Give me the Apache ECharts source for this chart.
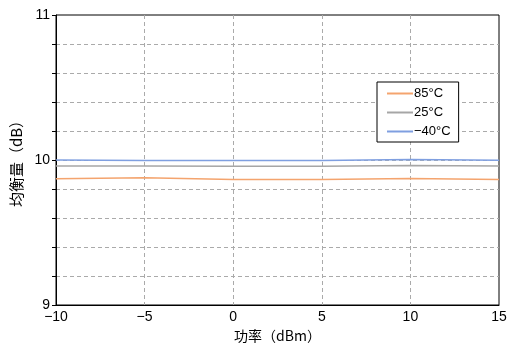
<!DOCTYPE html>
<html>
<head>
<meta charset="utf-8">
<script src="https://cdn.jsdelivr.net/npm/echarts@6/dist/echarts.min.js"></script>
<style>
  html, body { margin: 0; padding: 0; background: #fff; }
  #chart { width: 508px; height: 347px; }
</style>
</head>
<body>
<div id="chart"></div>
<script>
// Input power (dBm)
const power = [-10, -5, 0, 5, 10, 15];
// Equalization (dB) per temperature
const eq85 = [9.870, 9.878, 9.865, 9.866, 9.872, 9.865];
const eq25 = [9.958, 9.958, 9.957, 9.957, 9.962, 9.958];
const eqM40 = [10.000, 9.997, 9.996, 9.996, 10.003, 9.998];
const seriesNames = ['85°C', '25°C', '\u221240°C'];
const seriesColors = ['#f4a46e', '#a6a6a6', '#7f9fe0'];
const yLabels = [9, 10, 11];

const fontCN = '"Noto Sans CJK SC", "DejaVu Sans", sans-serif';
const fontNum = 'Arial, "Liberation Sans", sans-serif';
const minus = v => String(v).replace('-', '\u2212');

const chart = echarts.init(document.getElementById('chart'), null, { renderer: 'canvas' });
const data = [eq85, eq25, eqM40];
const dashed = { color: '#aaa', type: [4, 3], width: 1 };

chart.setOption({
  animation: false,
  backgroundColor: '#fff',
  grid: {
    left: 56, right: 9, top: 15, bottom: 42,
    outerBoundsMode: 'none', containLabel: false,
    show: true, borderColor: '#000', borderWidth: 1
  },
  legend: {
    left: 377, top: 82,
    orient: 'vertical',
    backgroundColor: '#fff',
    borderColor: '#000', borderWidth: 1, borderRadius: 0,
    padding: [5, 8, 4, 10],
    itemGap: 6,
    itemWidth: 26, itemHeight: 2,
    icon: 'rect',
    textStyle: { fontFamily: fontNum, fontSize: 13, color: '#000', padding: [0, 0, 0, -4] },
    data: seriesNames
  },
  xAxis: {
    type: 'value',
    min: -10, max: 15, interval: 5,
    name: '功率（dBm）',
    nameLocation: 'middle', nameGap: 24,
    nameTextStyle: { fontFamily: fontCN, fontSize: 14, color: '#000' },
    axisLine: { onZero: false, lineStyle: { color: '#000', width: 1 } },
    axisTick: { show: false },
    axisLabel: { formatter: minus, fontFamily: fontNum, fontSize: 14, color: '#000', margin: 5 },
    splitLine: { show: true, showMinLine: false, showMaxLine: false, lineStyle: dashed }
  },
  yAxis: {
    type: 'value',
    min: 9, max: 11, interval: 0.2,
    name: '均衡量（dB）',
    nameLocation: 'middle', nameGap: 30,
    nameTextStyle: { fontFamily: fontCN, fontSize: 15, color: '#000' },
    axisLine: { show: true, onZero: false, lineStyle: { color: '#000', width: 1 } },
    axisTick: { show: true, inside: false, length: 4, lineStyle: { color: '#000' } },
    axisLabel: {
      fontFamily: fontNum, fontSize: 14, color: '#000', margin: 6,
      formatter: v => {
        const r = Math.round(v * 10) / 10;
        return yLabels.includes(r) ? String(r) : '';
      }
    },
    splitLine: { show: true, showMinLine: false, showMaxLine: false, lineStyle: dashed }
  },
  series: seriesNames.map((n, i) => ({
    name: n,
    type: 'line',
    showSymbol: false,
    symbol: 'none',
    color: seriesColors[i],
    lineStyle: { width: 1.5, color: seriesColors[i] },
    data: power.map((p, k) => [p, data[i][k]])
  }))
});
</script>
</body>
</html>
